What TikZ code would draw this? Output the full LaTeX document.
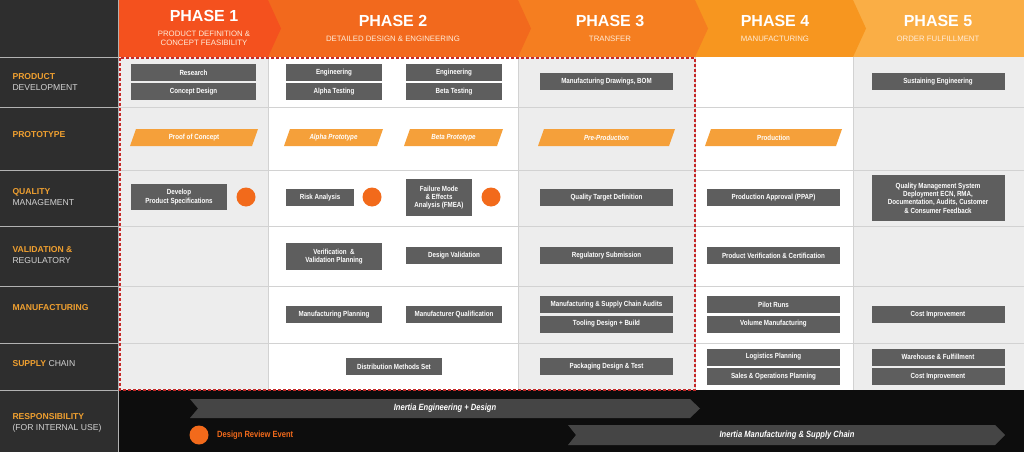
\documentclass[tikz,border=0pt]{standalone}
\usepackage{fontspec}
\setmainfont[FakeStretch=0.84]{Liberation Sans}
\newfontfamily\hdfont{Liberation Sans}
\definecolor{dk}{HTML}{2E2E2E}
\definecolor{bxg}{HTML}{5E5E5E}
\definecolor{lg}{HTML}{EDEDED}
\definecolor{gl}{HTML}{D2D2D2}
\definecolor{org}{HTML}{F26A1B}
\definecolor{lab}{HTML}{F0A030}
\definecolor{pro}{HTML}{F5A03A}
\definecolor{pa}{HTML}{F4511E}
\definecolor{pb}{HTML}{F2691D}
\definecolor{pc}{HTML}{F57E20}
\definecolor{pd}{HTML}{F7961F}
\definecolor{pe}{HTML}{FAAE45}
\definecolor{rd}{HTML}{C62828}
\begin{document}
\begin{tikzpicture}[x=1pt,y=-1pt,
 bx/.style={fill=bxg,text=white,font=\fontsize{7.4}{8.3}\selectfont\bfseries,inner sep=0pt,align=center},
 pt/.style={text=white,font=\fontsize{7.4}{8.3}\selectfont\bfseries,inner sep=0pt},
 rl/.style={anchor=west,align=left,font=\hdfont\fontsize{8.6}{10.5}\selectfont,text=gl},
 ph/.style={text=white,font=\hdfont\fontsize{16}{17}\selectfont\bfseries,inner sep=0pt},
 ps/.style={text=white!85!orange,font=\hdfont\fontsize{7.8}{9}\selectfont,align=center,inner sep=0pt},
 dot/.style={circle,fill=org,minimum size=19pt,inner sep=0pt}]
\useasboundingbox (0,0) rectangle (1024,452);
% backgrounds
\fill[white] (0,0) rectangle (1024,452);
\fill[dk] (0,0) rectangle (118,452);
\fill[lg] (118,57) rectangle (268,390);
\fill[lg] (518,57) rectangle (695,390);
\fill[lg] (853,57) rectangle (1024,390);
\fill[black!95] (118,390) rectangle (1024,452);
% grid
\foreach \y in {107,170,226,286,343}{\draw[gl,line width=0.8pt] (118,\y)--(1024,\y); \draw[gray!60,line width=0.8pt] (0,\y)--(118,\y);}
\draw[gray!60,line width=0.8pt] (0,57)--(118,57) (0,390)--(118,390);
\foreach \x in {268,518,695,853}{\draw[gl,line width=0.8pt] (\x,57)--(\x,390);}
\draw[gray!60,line width=0.8pt] (118,0)--(118,452);
% header chevrons
\fill[pe] (845,0) rectangle (1024,57);
\fill[pd] (680,0)--(853,0)--(866,28.5)--(853,57)--(680,57)--cycle;
\fill[pc] (510,0)--(695,0)--(708,28.5)--(695,57)--(510,57)--cycle;
\fill[pb] (260,0)--(518,0)--(531,28.5)--(518,57)--(260,57)--cycle;
\fill[pa] (119,0)--(268,0)--(281,28.5)--(268,57)--(119,57)--cycle;
\node[ph] (h1) at (204,16) {PHASE 1};
\node[ps] (s1) at (204,38) {PRODUCT DEFINITION \&\\CONCEPT FEASIBILITY};
\node[ph] (h2) at (393,21) {PHASE 2};
\node[ps] (s2) at (393,39) {DETAILED DESIGN \& ENGINEERING};
\node[ph] (h3) at (610,21) {PHASE 3};
\node[ps] (s3) at (610,39) {TRANSFER};
\node[ph] (h4) at (775,21) {PHASE 4};
\node[ps] (s4) at (775,39) {MANUFACTURING};
\node[ph] (h5) at (938,21) {PHASE 5};
\node[ps] (s5) at (938,39) {ORDER FULFILLMENT};
% row labels
\node[rl] (l1) at (9,82) {\textcolor{lab}{\bfseries PRODUCT}\\DEVELOPMENT};
\node[rl] (l2) at (9,135) {\textcolor{lab}{\bfseries PROTOTYPE}};
\node[rl] (l3) at (9,197) {\textcolor{lab}{\bfseries QUALITY}\\MANAGEMENT};
\node[rl] (l4) at (9,255) {\textcolor{lab}{\bfseries VALIDATION \&}\\REGULATORY};
\node[rl] (l5) at (9,308) {\textcolor{lab}{\bfseries MANUFACTURING}};
\node[rl] (l6) at (9,364) {\textcolor{lab}{\bfseries SUPPLY} CHAIN};
\node[rl] (l7) at (9,423) {\textcolor{lab}{\bfseries RESPONSIBILITY}\\(FOR INTERNAL USE)};
% product development
\node[bx,minimum width=125pt,minimum height=17pt] (b1) at (193.5,72.5) {Research};
\node[bx,minimum width=125pt,minimum height=17pt] (b2) at (193.5,91.5) {Concept Design};
\node[bx,minimum width=96pt,minimum height=17pt] (b3) at (334,72.5) {Engineering};
\node[bx,minimum width=96pt,minimum height=17pt] (b4) at (334,91.5) {Alpha Testing};
\node[bx,minimum width=96pt,minimum height=17pt] (b5) at (454,72.5) {Engineering};
\node[bx,minimum width=96pt,minimum height=17pt] (b6) at (454,91.5) {Beta Testing};
\node[bx,minimum width=133pt,minimum height=17pt] (b7) at (606.5,81.5) {Manufacturing Drawings, BOM};
\node[bx,minimum width=133pt,minimum height=17pt] (b8) at (938,81.5) {Sustaining Engineering};
% prototype
\foreach \a/\b/\n/\t in {130/258/p1/Proof of Concept,284/383/p2/\itshape Alpha Prototype,404/503/p3/\itshape Beta Prototype,538/675/p4/\itshape Pre-Production,705/842/p5/Production}{
 \fill[pro] (\a,146)--(\a+6,129)--(\b,129)--(\b-6,146)--cycle;
 \node[pt] (\n) at ({(\a+\b)/2},137.5) {\t};}
% quality
\node[bx,minimum width=96pt,minimum height=26pt] (q1) at (179,197) {Develop\\Product Specifications};
\node[dot] (d1) at (246,197) {};
\node[bx,minimum width=68pt,minimum height=17pt] (q2) at (320,197.5) {Risk Analysis};
\node[dot] (d2) at (372,197) {};
\node[bx,minimum width=66pt,minimum height=37pt] (q3) at (439,197.5) {Failure Mode\\\& Effects\\Analysis (FMEA)};
\node[dot] (d3) at (491,197) {};
\node[bx,minimum width=133pt,minimum height=17pt] (q4) at (606.5,197.5) {Quality Target Definition};
\node[bx,minimum width=133pt,minimum height=17pt] (q5) at (773.5,197.5) {Production Approval (PPAP)};
\node[bx,minimum width=133pt,minimum height=46pt] (q6) at (938,198) {Quality Management System\\Deployment ECN, RMA,\\Documentation, Audits, Customer\\\& Consumer Feedback};
% validation
\node[bx,minimum width=96pt,minimum height=27pt] (v1) at (334,256.5) {Verification \ \&\\Validation Planning};
\node[bx,minimum width=96pt,minimum height=17pt] (v2) at (454,255.5) {Design Validation};
\node[bx,minimum width=133pt,minimum height=17pt] (v3) at (606.5,255.5) {Regulatory Submission};
\node[bx,minimum width=133pt,minimum height=17pt] (v4) at (773.5,255.5) {Product Verification \& Certification};
% manufacturing
\node[bx,minimum width=96pt,minimum height=17pt] (m1) at (334,314.5) {Manufacturing Planning};
\node[bx,minimum width=96pt,minimum height=17pt] (m2) at (454,314.5) {Manufacturer Qualification};
\node[bx,minimum width=133pt,minimum height=17pt] (m3) at (606.5,304.5) {Manufacturing \& Supply Chain Audits};
\node[bx,minimum width=133pt,minimum height=17pt] (m4) at (606.5,324) {Tooling Design + Build};
\node[bx,minimum width=133pt,minimum height=17pt] (m5) at (773.5,304.5) {Pilot Runs};
\node[bx,minimum width=133pt,minimum height=17pt] (m6) at (773.5,324) {Volume Manufacturing};
\node[bx,minimum width=133pt,minimum height=17pt] (m7) at (938,314.5) {Cost Improvement};
% supply chain
\node[bx,minimum width=96pt,minimum height=17pt] (c1) at (394,366.5) {Distribution Methods Set};
\node[bx,minimum width=133pt,minimum height=17pt] (c2) at (606.5,366.5) {Packaging Design \& Test};
\node[bx,minimum width=133pt,minimum height=17pt] (c3) at (773.5,357) {Logistics Planning};
\node[bx,minimum width=133pt,minimum height=17pt] (c4) at (773.5,376.5) {Sales \& Operations Planning};
\node[bx,minimum width=133pt,minimum height=17pt] (c5) at (938,357) {Warehouse \& Fulfillment};
\node[bx,minimum width=133pt,minimum height=17pt] (c6) at (938,376.5) {Cost Improvement};
% red dashed frame
\draw[rd,line width=1.1pt,dash pattern=on 3pt off 2pt] (120,58) rectangle (695,390);
% responsibility
\fill[black!73] (190,399)--(690,399)--(700,408.5)--(690,418)--(190,418)--(198,408.5)--cycle;
\node[text=white,font=\fontsize{9}{10}\selectfont\bfseries\itshape] (r1) at (445,408.5) {Inertia Engineering + Design};
\fill[black!73] (568,425)--(995,425)--(1005,435)--(995,445)--(568,445)--(576,435)--cycle;
\node[text=white,font=\fontsize{9}{10}\selectfont\bfseries\itshape] (r2) at (787,435) {Inertia Manufacturing \& Supply Chain};
\node[dot] (d4) at (199,435) {};
\node[anchor=west,text=org,font=\fontsize{9}{10}\selectfont\bfseries,inner sep=0pt] (r3) at (217,435.5) {Design Review Event};
\end{tikzpicture}
\end{document}
